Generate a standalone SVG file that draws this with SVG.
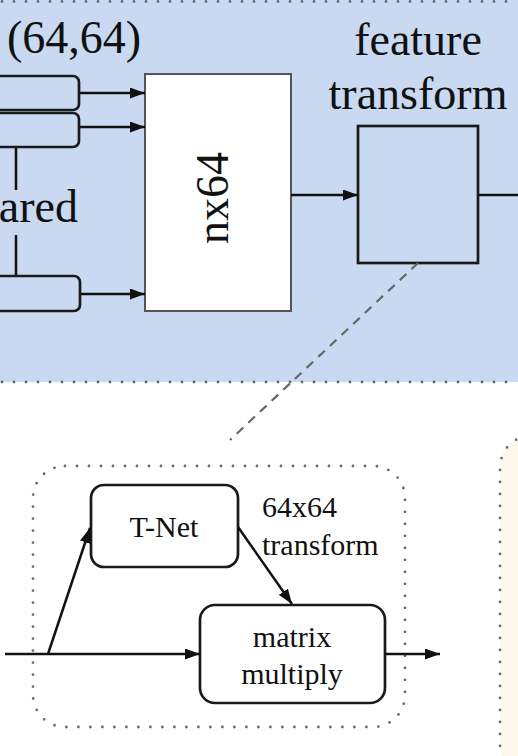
<svg xmlns="http://www.w3.org/2000/svg" width="518" height="756" viewBox="0 0 518 756">
<style>
.t{font-family:"Liberation Serif","Times New Roman",serif;fill:#111}
.big{font-size:46px}
.sm{font-size:30px}
.dot{fill:none;stroke:#6a6a6a;stroke-width:2.8;stroke-linecap:round;stroke-dasharray:0 12}
.ln{fill:none;stroke:#111;stroke-width:2.5}
.bx{stroke:#1a1a1a;stroke-width:2.7}
</style>
<defs>
<marker id="ah" viewBox="0 0 15 11" refX="15" refY="5.5" markerWidth="15" markerHeight="11" markerUnits="userSpaceOnUse" orient="auto">
<path d="M0,0 L15,5.5 L0,11 Z" fill="#111"/>
</marker>
</defs>
<rect x="0" y="0" width="518" height="382" fill="#cad9f2"/>
<line class="dot" x1="2" y1="1.5" x2="518" y2="1.5"/>
<line class="dot" x1="2" y1="382" x2="518" y2="382"/>
<rect x="500" y="436" width="60" height="340" rx="32" fill="#fdf8ec"/>
<rect class="dot" x="500" y="436" width="60" height="340" rx="32"/>

<g id="label-64">
<text class="t big" x="7" y="53">(64,64)</text>
</g>
<g id="mlp-box1"><rect class="bx" x="-20" y="76" width="99" height="34" rx="6" fill="#cad9f2"/></g>
<g id="mlp-box2"><rect class="bx" x="-20" y="113" width="99" height="34" rx="6" fill="#cad9f2"/></g>
<g id="mlp-box3"><rect class="bx" x="-20" y="276" width="100" height="35" rx="6" fill="#cad9f2"/></g>
<g id="shared">
<line class="ln" x1="16" y1="148" x2="16" y2="190" stroke-width="3"/>
<line class="ln" x1="16" y1="235" x2="16" y2="275" stroke-width="3"/>
<text class="t big" x="78" y="222" text-anchor="end">ared</text>
</g>
<g id="nx64">
<rect x="145" y="74" width="146" height="237" fill="#fff" stroke="#555" stroke-width="2"/>
<text class="t big" transform="translate(228,198) rotate(-90)" text-anchor="middle">nx64</text>
</g>
<g id="feature-transform">
<text class="t big" x="418" y="55" text-anchor="middle">feature</text>
<text class="t big" x="418" y="109" text-anchor="middle">transform</text>
<rect class="bx" x="358" y="126" width="120" height="137" fill="#cad9f2"/>
</g>

<g id="tnet-group">
<rect class="dot" x="33" y="466" width="372" height="261" rx="32"/>
</g>
<g id="tnet">
<rect class="bx" x="91" y="485" width="147" height="82" rx="13" fill="#fff"/>
<text class="t sm" x="164" y="537" text-anchor="middle">T-Net</text>
</g>
<g id="label-64x64">
<text class="t sm" x="262" y="517">64x64</text>
<text class="t sm" x="262" y="555">transform</text>
</g>
<g id="matmul">
<rect class="bx" x="200" y="605" width="185" height="98" rx="15" fill="#fff"/>
<text class="t sm" x="292" y="647" text-anchor="middle">matrix</text>
<text class="t sm" x="292" y="684" text-anchor="middle">multiply</text>
</g>

<g id="connectors">
<line class="ln" x1="80" y1="93" x2="145" y2="93" marker-end="url(#ah)"/>
<line class="ln" x1="80" y1="127" x2="145" y2="127" marker-end="url(#ah)"/>
<line class="ln" x1="81" y1="294" x2="145" y2="294" marker-end="url(#ah)"/>
<line class="ln" x1="291" y1="195" x2="358" y2="195" marker-end="url(#ah)"/>
<line class="ln" x1="478" y1="195" x2="518" y2="195"/>
<line x1="418" y1="263" x2="230" y2="440" stroke="#666" stroke-width="2.2" stroke-dasharray="9 7"/>
<line class="ln" x1="5" y1="654" x2="200" y2="654" marker-end="url(#ah)"/>
<line class="ln" x1="48" y1="654" x2="90" y2="528" marker-end="url(#ah)"/>
<line class="ln" x1="238" y1="527" x2="292" y2="604" marker-end="url(#ah)"/>
<line class="ln" x1="385" y1="654" x2="440" y2="654" marker-end="url(#ah)"/>
</g>
</svg>
